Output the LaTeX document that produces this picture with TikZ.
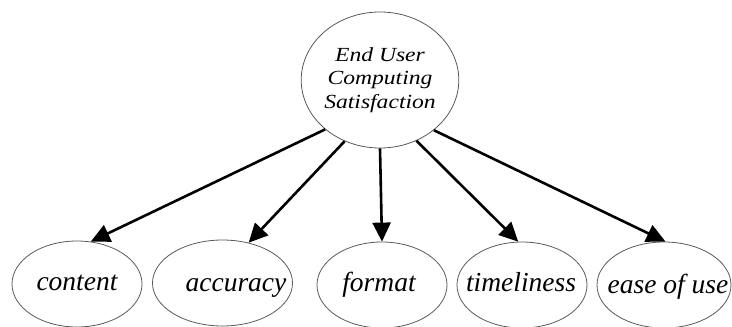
\documentclass[tikz,border=0pt]{standalone}
\usepackage{fontspec}
\newfontfamily\hubfont[FakeStretch=1.18]{Liberation Serif}
\newfontfamily\leaffont{Liberation Serif}
\usetikzlibrary{shapes.geometric,arrows.meta}
\begin{document}
\begin{tikzpicture}[x=1pt,y=-1pt,
  hub/.style={ellipse,draw=black!65,line width=0.8pt,inner sep=0pt,minimum width=150pt,minimum height=136pt,align=center,font=\hubfont\itshape\fontsize{20}{23.5}\selectfont},
  leaf/.style={ellipse,draw=black!65,line width=0.8pt,inner sep=0pt,minimum height=86pt},
  leaftext/.style={anchor=base,inner sep=0pt,font=\leaffont\itshape\fontsize{27.5}{30}\selectfont},
  link/.style={line width=2.6pt,-{Triangle[length=19pt,width=18pt]}}]
\useasboundingbox (0,0) rectangle (732,327);
\node [hub] (ecus) at (380,80) {End User\\Computing\\Satisfaction};
\node [leaf,minimum width=130pt] (content) at (77,284) {};
\node [leaf,minimum width=140pt] (accuracy) at (222.5,283) {};
\node [leaf,minimum width=130pt] (format) at (382,285) {};
\node [leaf,minimum width=130pt] (timeliness) at (522,285) {};
\node [leaf,minimum width=134pt] (easeofuse) at (664,285) {};
\node [leaftext] (contentlbl) at (77,290) {content};
\node [leaftext] (accuracylbl) at (236,291) {accuracy};
\node [leaftext] (formatlbl) at (379,291) {format};
\node [leaftext] (timelinesslbl) at (521,291) {timeliness};
\node [leaftext] (easeofuselbl) at (668,293) {ease of use};
\draw [link] (ecus.222.8) -- (content.72);
\draw [link] (ecus.240.6) -- (accuracy.57);
\draw [link] (ecus.270) -- (format.90);
\draw [link] (ecus.301.7) -- (timeliness.95.6);
\draw [link] (ecus.317.2) -- (easeofuse.88.6);
\end{tikzpicture}
\end{document}
